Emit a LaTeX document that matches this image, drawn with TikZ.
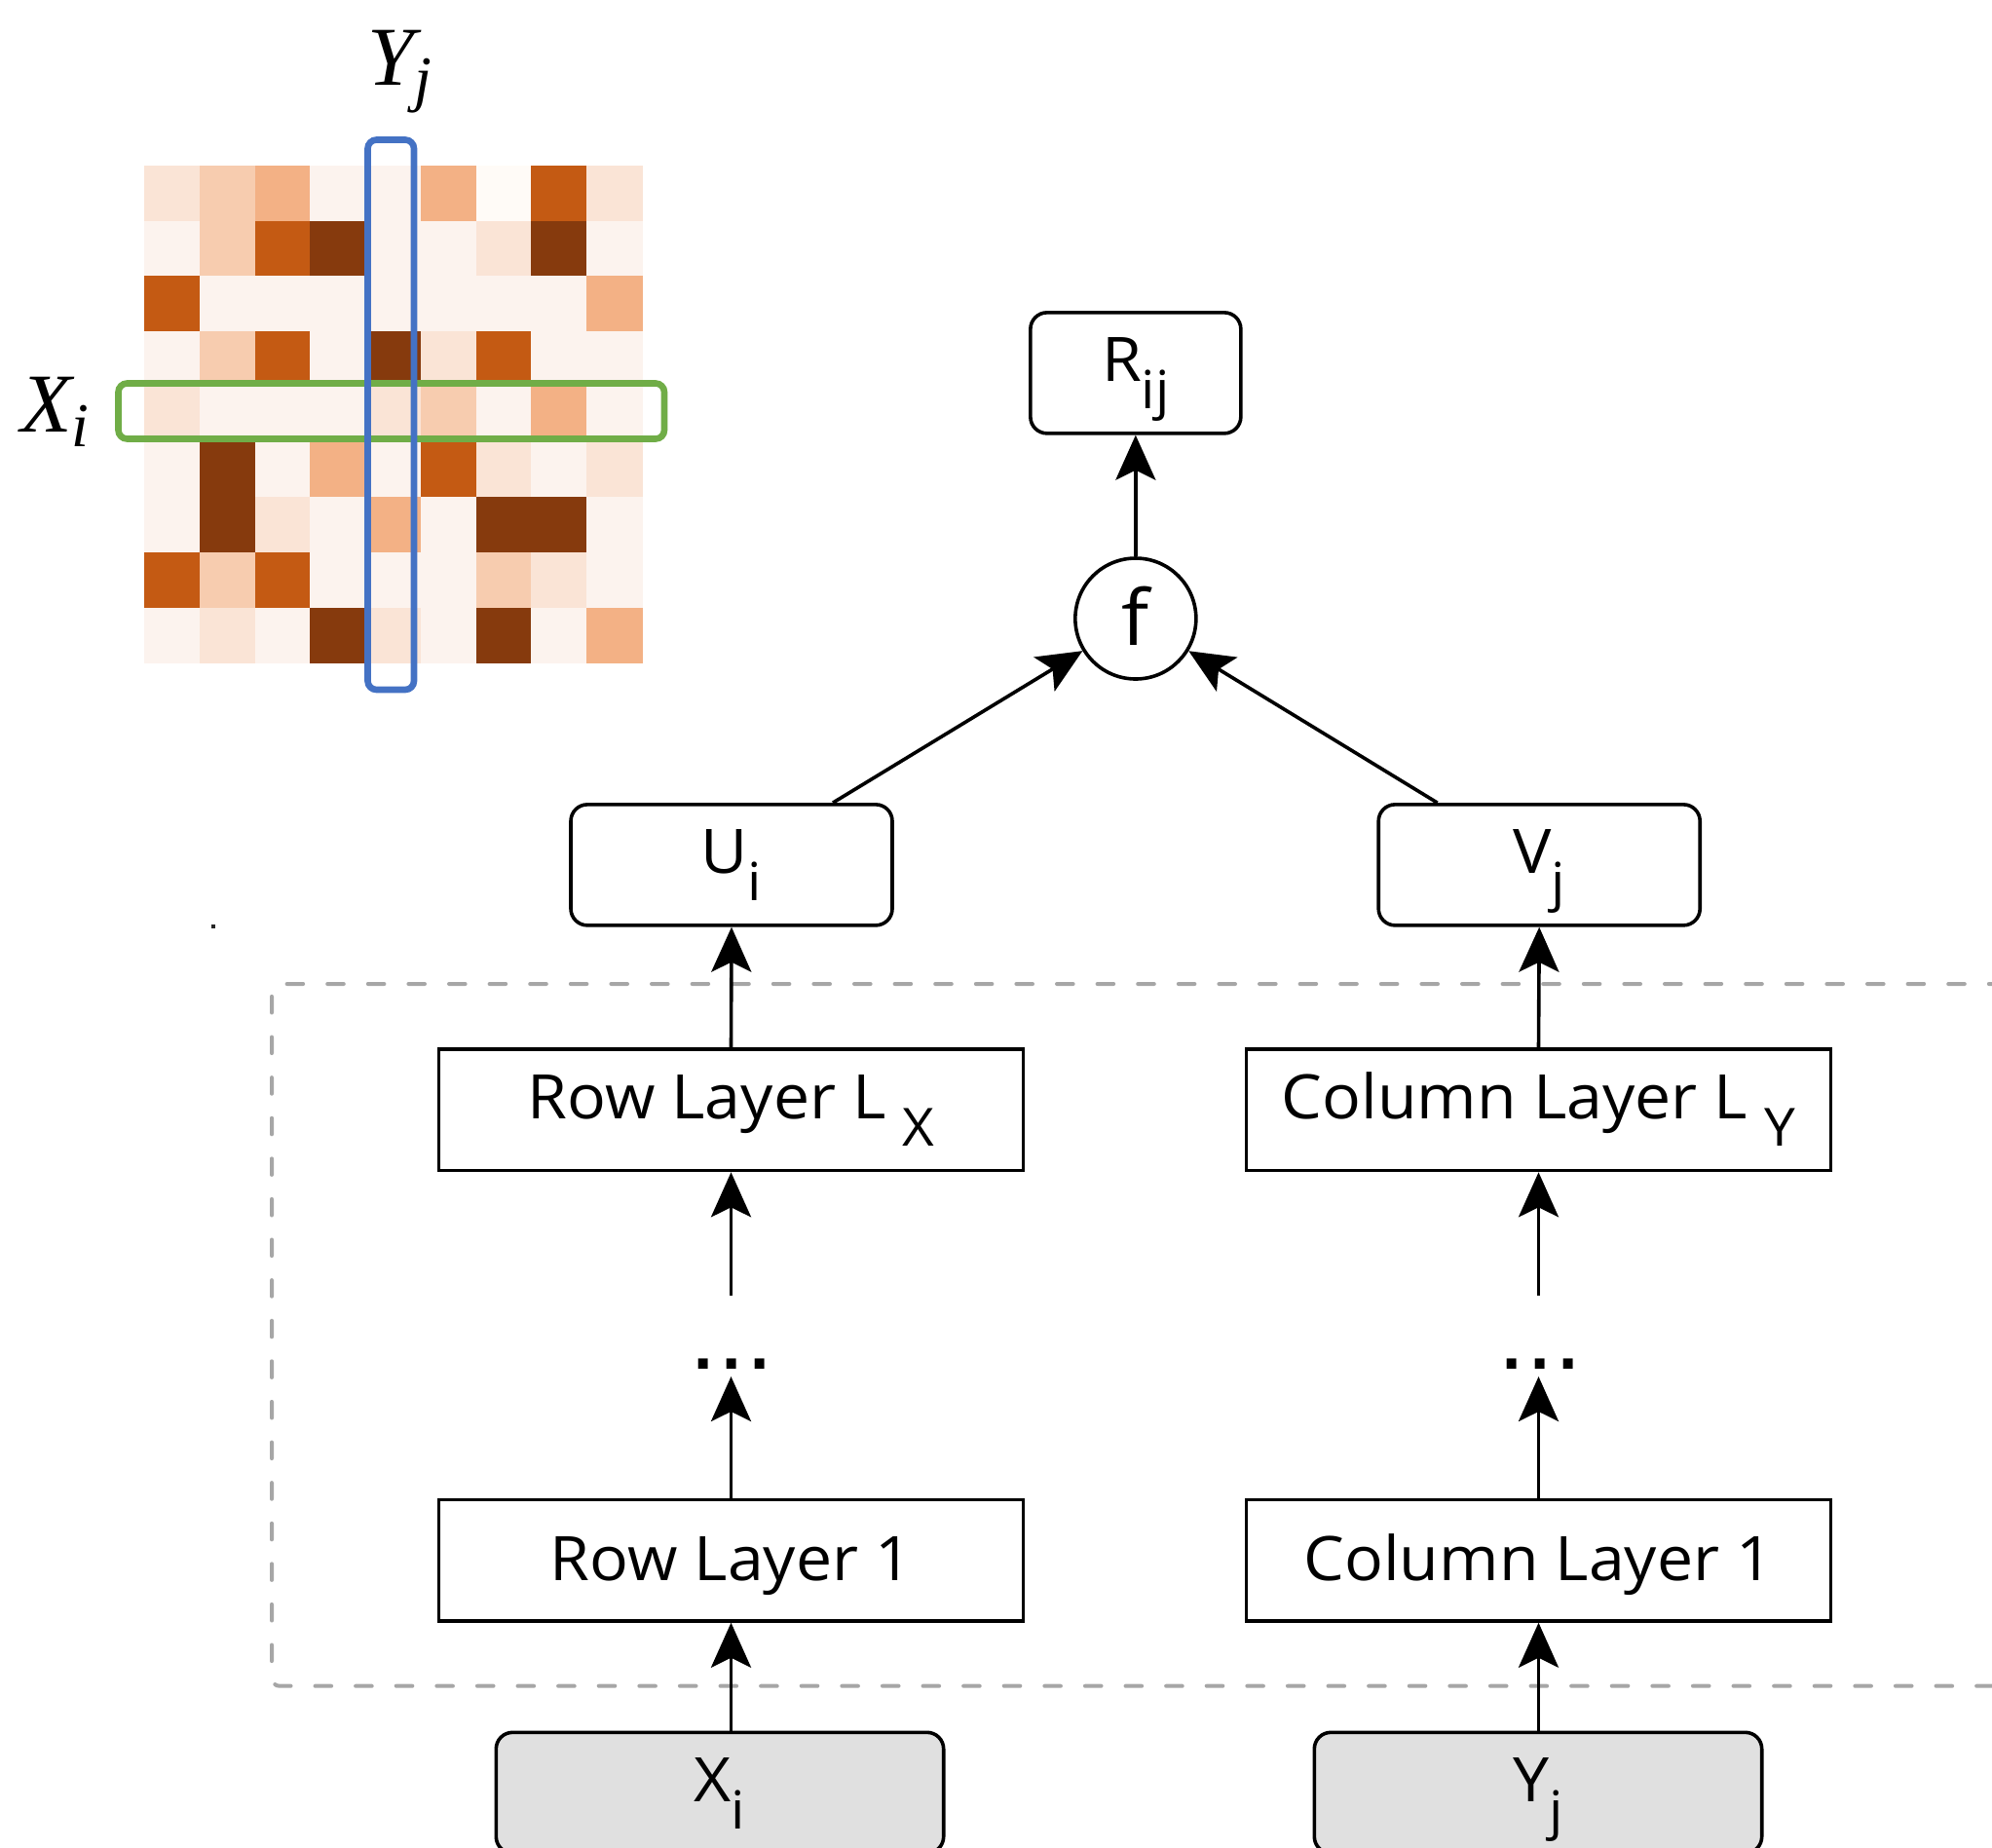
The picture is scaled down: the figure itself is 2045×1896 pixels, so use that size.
\documentclass[tikz,border=0pt]{standalone}
\usepackage{fontspec}
\setmainfont{Open Sans}[FakeStretch=1.05]
\newfontfamily\labfont{Liberation Serif}
\newfontfamily\dotfont{DejaVu Sans}
\usetikzlibrary{arrows.meta}
\definecolor{c0}{HTML}{FCF3EE}
\definecolor{c1}{HTML}{FAE4D6}
\definecolor{c2}{HTML}{F7CCAF}
\definecolor{c3}{HTML}{F3B185}
\definecolor{c4}{HTML}{C45A13}
\definecolor{c5}{HTML}{863A0D}
\definecolor{cw}{HTML}{FFFBF7}
\definecolor{bluebox}{HTML}{4472C4}
\definecolor{greenbox}{HTML}{70AD47}
\definecolor{dashgray}{HTML}{A6A6A6}
\definecolor{inputgray}{HTML}{E0E0E0}
\newcommand\sbx[1]{\raisebox{-14pt}{\fontsize{27}{27}\selectfont #1}}
\newcommand\lsub[1]{\raisebox{-7.5pt}{\fontsize{32}{32}\selectfont #1}}
\begin{document}
\begin{tikzpicture}[x=0.5pt,y=-0.5pt,
  mainfont/.style={font=\fontsize{31.5}{31.5}\selectfont},
  arr/.style={draw=black, line width=1.8pt, -{Stealth[length=23pt,width=20.5pt,inset=5pt]}},
  basebox/.style={draw=black, line width=1.8pt, fill=white, inner sep=0pt, mainfont},
  rbox/.style={basebox, rounded corners=8.5pt},
  layerbox/.style={basebox, minimum width=300pt, minimum height=62.2pt},
  inbox/.style={basebox, rounded corners=8.5pt, fill=inputgray, minimum width=229.7pt, minimum height=62pt},
  subtext/.style={text height=22pt, text depth=13.2pt},
  plaintext/.style={text height=24pt, text depth=3pt},
  lab/.style={anchor=base west, inner sep=0pt, font=\labfont\itshape\fontsize{43}{43}\selectfont},
  dots/.style={anchor=base, inner sep=0pt, font=\dotfont\bfseries\fontsize{28}{28}\selectfont}
]
\useasboundingbox (0,0) rectangle (2045,1896);
\clip (0,0) rectangle (2045,1896);

% heat map
\foreach \row [count=\r from 0] in {
  {1,2,3,0,0,3,w,4,1},
  {0,2,4,5,0,0,1,5,0},
  {4,0,0,0,0,0,0,0,3},
  {0,2,4,0,5,1,4,0,0},
  {1,0,0,0,1,2,0,3,0},
  {0,5,0,3,0,4,1,0,1},
  {0,5,1,0,3,0,5,5,0},
  {4,2,4,0,0,0,2,1,0},
  {0,1,0,5,1,0,5,0,3}} {
  \foreach \c [count=\k from 0] in \row {
    \fill[c\c] (148.2+\k*56.75,169.9+\r*56.75) rectangle ++(57.3,57.3);
  }
}
\draw[greenbox, line width=3.3pt, rounded corners=4.5pt] (121.5,393.5) rectangle (682,450.5);
\draw[bluebox, line width=3.3pt, rounded corners=4.5pt] (377.5,143.5) rectangle (425,708);
\node[lab] (ylab) at (377,87) {Y\lsub{j}};
\node[lab] (xlab) at (21,443) {X\lsub{i}};

% stray dot
\fill[black!85] (216.7,949.3) rectangle (220.7,953.3);

% dashed frame
\draw[dashgray, line width=2pt, line cap=round, dash pattern=on 8.3pt off 12.5pt, rounded corners=4pt]
  (2100,1010) -- (279,1010) -- (279,1730.7) -- (2100,1730.7);

% nodes
\node[rbox, subtext, minimum width=108pt, minimum height=62pt] (R) at (1165.85,382.85) {R\sbx{ij}};
\node[circle, draw=black, line width=1.8pt, fill=white, minimum size=62pt, inner sep=0pt,
  font=\fontsize{39.5}{39.5}\selectfont, text height=30pt, text depth=3pt] (f) at (1165.85,635) {f};
\node[rbox, subtext, minimum width=165pt, minimum height=62pt] (U) at (751,887.85) {U\sbx{i}};
\node[rbox, subtext, minimum width=165pt, minimum height=62pt] (V) at (1580.2,887.85) {V\sbx{j}};
\node[layerbox, subtext] (RL) at (750.5,1139.3) {Row Layer L\hspace{8.5pt}\sbx{X}};
\node[layerbox, subtext] (CL) at (1579.5,1139.3) {Column Layer L\hspace{8.5pt}\sbx{Y}};
\node[layerbox, plaintext] (R1) at (750.5,1601.7) {Row Layer 1};
\node[layerbox, plaintext] (C1) at (1579.5,1601.7) {Column Layer 1};
\node[inbox, subtext] (Xi) at (739,1840.3) {X\sbx{i}};
\node[inbox, subtext] (Yj) at (1579,1840.3) {Y\sbx{j}};
\node[dots] (rdots) at (751,1405.7) {.\kern3.8pt.\kern3.8pt.};
\node[dots] (cdots) at (1581,1405.7) {.\kern3.8pt.\kern3.8pt.};

% connectors
\coordinate (ua) at ([xshift=52pt]U.north);
\coordinate (va) at ([xshift=-52.3pt]V.north);
\coordinate (rs) at (750.5,1330);
\coordinate (cs) at (1579.5,1330);
\coordinate (rt) at (750.5,1413);
\coordinate (ct) at (1579.5,1413);
\draw[arr] (f) -- (R);
\draw[arr] (ua) -- (f);
\draw[arr] (va) -- (f);
\draw[arr] (RL.north) -- (U.south);
\draw[arr] (CL.north) -- (V.south);
\draw[arr] (rs) -- (RL.south);
\draw[arr] (cs) -- (CL.south);
\draw[arr] (R1.north) -- (rt);
\draw[arr] (C1.north) -- (ct);
\draw[arr] (Xi.north -| R1.south) -- (R1.south);
\draw[arr] (Yj.north -| C1.south) -- (C1.south);
\end{tikzpicture}
\end{document}
